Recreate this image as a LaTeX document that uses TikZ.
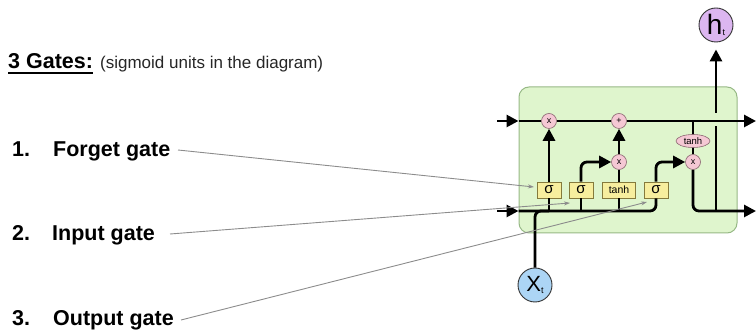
\documentclass[tikz,border=0pt]{standalone}
\usepackage{fontspec}
\setmainfont{Liberation Sans}
\usetikzlibrary{arrows.meta,shapes.geometric,calc}

\definecolor{cellfill}{HTML}{DFF5CD}
\definecolor{cellline}{HTML}{97B986}
\definecolor{opfill}{HTML}{F5C8D4}
\definecolor{opline}{HTML}{8A6670}
\definecolor{gatefill}{HTML}{F7EE9E}
\definecolor{gateline}{HTML}{857A3C}
\definecolor{hfill}{HTML}{DCB6F0}
\definecolor{xfill}{HTML}{ACD5F5}
\definecolor{pointergray}{HTML}{8C8C8C}

\tikzset{
  flow/.style={line width=2.8pt, black},
  tip/.style={-{Triangle[length=12pt,width=12pt]}},
  op/.style={circle, draw=opline, fill=opfill, line width=0.6pt, minimum size=15pt,
             inner sep=0pt, font=\fontsize{9}{9}\selectfont},
  act/.style={ellipse, draw=opline, fill=opfill, line width=0.6pt, minimum width=34pt,
              minimum height=13pt, inner sep=0pt, font=\fontsize{9.5}{9.5}\selectfont},
  gate/.style={rectangle, draw=gateline, fill=gatefill, line width=0.8pt, minimum width=24pt,
               minimum height=16pt, inner sep=0pt, font=\fontsize{15}{15}\selectfont},
  state/.style={circle, draw=black!80, line width=0.9pt, minimum size=34pt, inner sep=0pt},
  pointer/.style={draw=pointergray, line width=0.9pt, -{Stealth[length=6pt,width=4pt]}},
  label/.style={anchor=base west, font=\bfseries\fontsize{21.5}{24}\selectfont},
}

\begin{document}
\begin{tikzpicture}[x=1pt,y=-1pt]
\useasboundingbox (0,0) rectangle (756,336);

% heading
\node[label, inner sep=0pt] (title) at (8,69) {3 Gates:};
\draw[line width=1.8pt] ($(title.base west)+(0,4)$) -- ($(title.base east)+(0,4)$);
\node[anchor=base west, inner sep=0pt, font=\fontsize{17}{20}\selectfont, text=black!85]
  (subtitle) at (100,69) {(sigmoid units in the diagram)};

% list of gates
\node[label, inner sep=0pt] (n1) at (12,157) {1.};
\node[label, inner sep=0pt] (forget) at (53,157) {Forget gate};
\node[label, inner sep=0pt] (n2) at (12,241) {2.};
\node[label, inner sep=0pt] (input) at (52,241) {Input gate};
\node[label, inner sep=0pt] (n3) at (12,326) {3.};
\node[label, inner sep=0pt] (output) at (53,326) {Output gate};

% LSTM cell body
\node[draw=cellline, fill=cellfill, line width=1pt, rounded corners=10pt,
      minimum width=218pt, minimum height=146pt, inner sep=0pt] (cell) at (628,160) {};

% pointwise operations
\node[op] (fx) at (549,121) {x};
\node[op] (sum) at (619,121) {+};
\node[op] (ix) at (619,162) {x};
\node[op] (ox) at (693,162) {x};
\node[act] (ct) at (693,141) {tanh};

% layers
\node[gate] (g1) at (549,190) {σ};
\node[gate] (g2) at (581,190) {σ};
\node[gate, minimum width=33pt, font=\fontsize{10.5}{10.5}\selectfont] (g3) at (619,190) {tanh};
\node[gate] (g4) at (656,190) {σ};

% input and output states
\node[state, fill=xfill] (x) at (535,285) {\fontsize{22}{22}\selectfont X\raisebox{-2pt}{\fontsize{9}{9}\selectfont t}};
\node[state, fill=hfill] (h) at (716,25) {\fontsize{28}{28}\selectfont h\raisebox{-1pt}{\fontsize{9}{9}\selectfont t}};

\coordinate (cin) at (497,121);
\coordinate (cout) at (756,121);
\coordinate (hin) at (497,211);
\coordinate (hout) at (756,211);

% cell state line
\draw[flow, tip] (cin) -- (cin -| cell.west);
\draw[flow] (cin -| cell.west) -- (fx);
\draw[flow] (fx) -- (sum);
\draw[flow, tip] (sum) -- (cout);

% hidden state input and x_t merging into the bottom line
\draw[flow, tip] (hin) -- (hin -| cell.west);
\draw[flow, rounded corners=6pt] (hin -| cell.west) -- (656,211) -- (g4);
\draw[flow, rounded corners=6pt] (x) -- (535,211) -- (549,211);

% forget gate
\draw[flow] (549,211) -- (g1);
\draw[flow, tip] (g1) -- (fx);

% input gate and candidate
\draw[flow] (581,211) -- (g2);
\draw[flow, tip, rounded corners=6pt] (g2.north) -- (581,162) -- (ix);
\draw[flow] (619,211) -- (g3);
\draw[flow] (g3) -- (ix);
\draw[flow, tip] (ix) -- (sum);

% output gate
\draw[flow, tip, rounded corners=6pt] (g4.north) -- (656,162) -- (ox);
\draw[flow] (693,121) -- (ct);
\draw[flow] (ct) -- (ox);
\draw[flow, tip, rounded corners=6pt] (ox) -- (693,211) -- (hout);

% h_t output, bridging over the cell state line
\draw[flow] (716,211) -- (716,126);
\draw[flow, tip, shorten >=7pt] (716,113) -- (h);

% pointers from the labels to the gates
\draw[pointer] (178,150) -- (534,187);
\draw[pointer] (170,234) -- (570,203);
\draw[pointer] (181,320) -- (647,202);
\end{tikzpicture}
\end{document}
